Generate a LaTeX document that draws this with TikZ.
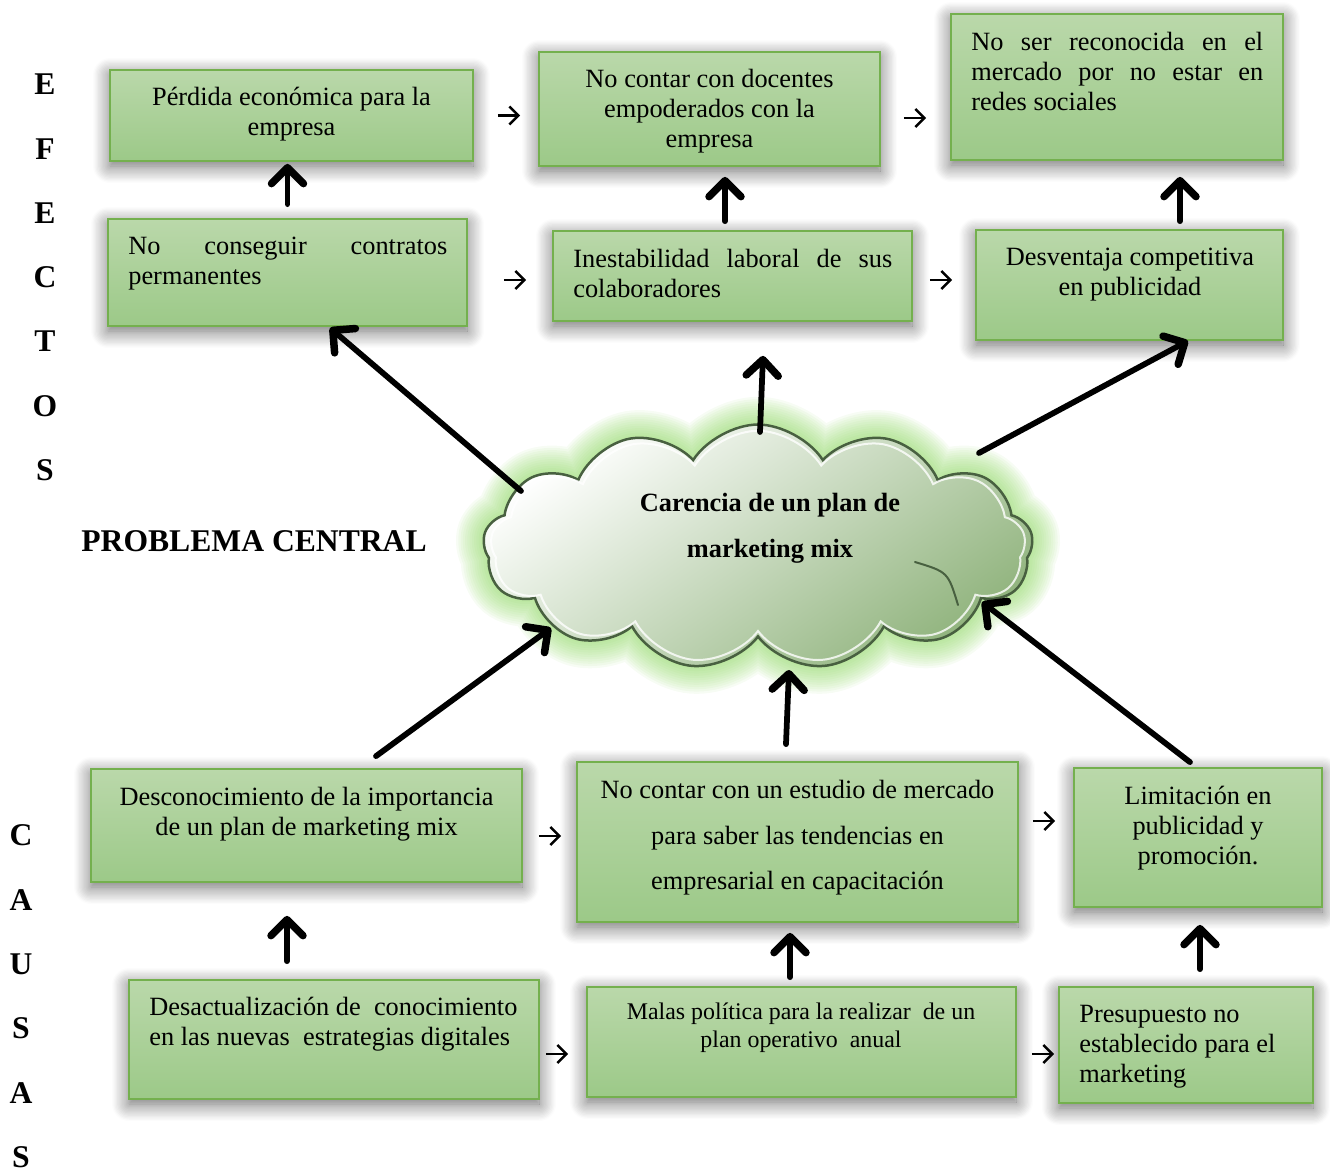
\documentclass[tikz,border=0pt]{standalone}
\usepackage{fontspec}
\setmainfont{Liberation Serif}
\usetikzlibrary{arrows.meta,shapes.symbols,shadows.blur,calc}

\definecolor{paneltop}{RGB}{186,216,170}
\definecolor{panelbot}{RGB}{156,201,136}
\definecolor{panelrim}{RGB}{116,176,78}
\definecolor{cloudrim}{RGB}{72,96,64}
\definecolor{cloudfill}{RGB}{145,180,126}
\definecolor{glowgreen}{RGB}{140,214,96}

% first-line strut so every text block hangs from the same height
\newcommand\tstrut{\rule{0pt}{12pt}}
% a justified line of fixed width
\newcommand\jline[2]{\makebox[#1][s]{#2}}
% a green panel given by its corners on the pixel grid
\newcommand\drawpanel[5]{%
  \node[panelbox, minimum width={(#4-#2)*0.02cm}, minimum height={(#5-#3)*0.02cm}]
    (#1) at ({(#2+#4)/2},{(#3+#5)/2}) {};}

\tikzset{
  panelbox/.style={draw=panelrim, line width=0.035cm, top color=paneltop,
    bottom color=panelbot, inner sep=0pt,
    blur shadow={shadow xshift=0cm, shadow yshift=-0.1cm,
      shadow blur radius=0.34cm, shadow blur steps=14, shadow opacity=60}},
  body/.style={inner sep=0pt, anchor=north,
    font=\fontsize{15pt}{17.1pt}\selectfont, execute at begin node=\tstrut},
  heavy/.style={line width=0.115cm, line cap=round,
    -{Straight Barb[length=0.32cm, width=0.64cm, line width=0.15cm,
      line join=round, line cap=round]}},
  light/.style={line width=0.05cm,
    -{Straight Barb[length=0.18cm, width=0.36cm]}},
  tag/.style={inner sep=0pt, anchor=base,
    font=\fontsize{18pt}{21pt}\selectfont\bfseries},
  cloudshape/.style={cloud, cloud puffs=13, cloud puff arc=115, aspect=2.3,
    minimum width=11.0cm, minimum height=4.9cm, inner sep=0pt},
  crease/.style={draw=cloudrim, line width=0.04cm, line cap=round},
}

\begin{document}
\begin{tikzpicture}[x=0.02cm, y=-0.02cm]
\useasboundingbox (0,0) rectangle (1330,1174);

% ---------- side labels ----------
\foreach \ch/\yy [count=\i] in {E/83,F/148,E/212,C/276,T/340,O/405,S/469}
  \node[tag] (ef\i) at (45,\yy+11) {\ch};
\foreach \ch/\yy [count=\i] in {C/834,A/899,U/963,S/1027,A/1092,S/1156}
  \node[tag] (ca\i) at (21,\yy+11) {\ch};
\node[tag] (central) at (254,551) {PROBLEMA CENTRAL};

% ---------- effects ----------
\drawpanel{E1}{110}{70}{473}{161}
\drawpanel{E2}{539}{52}{880}{166}
\drawpanel{E3}{951}{14}{1283}{160}
\drawpanel{E4}{108}{219}{467}{326}
\drawpanel{E5}{553}{231}{912}{321}
\drawpanel{E6}{976}{230}{1283}{340}

\node[body, align=center] (E1t) at (291.5,87) {Pérdida económica para la\\empresa};
\node[body, align=center] (E2t) at (709.5,69) {No contar con docentes\\empoderados con la\\empresa};
\node[body, anchor=north west, align=left] (E3t) at (971,32)
  {\jline{5.84cm}{No ser reconocida en el}\\\jline{5.84cm}{mercado por no estar en}\\redes sociales};
\node[body, anchor=north west, align=left] (E4t) at (128,237)
  {\jline{6.38cm}{No conseguir contratos}\\permanentes};
\node[body, anchor=north west, align=left] (E5t) at (573,249)
  {\jline{6.38cm}{Inestabilidad laboral de sus}\\colaboradores};
\node[body, align=center] (E6t) at (1130,248) {Desventaja competitiva\\en publicidad};

% ---------- causes ----------
\drawpanel{C1}{91}{769}{522}{882}
\drawpanel{C2}{577}{762}{1018}{922}
\drawpanel{C3}{1074}{768}{1322}{907}
\drawpanel{C4}{129}{980}{539}{1099}
\drawpanel{C5}{587}{987}{1016}{1097}
\drawpanel{C6}{1059}{987}{1313}{1103}

\node[body, align=center] (C1t) at (306.5,787) {Desconocimiento de la importancia\\de un plan de marketing mix};
\node[body, align=center, font=\fontsize{15pt}{25.9pt}\selectfont] (C2t) at (797.5,780)
  {No contar con un estudio de mercado\\para saber las tendencias en\\empresarial en capacitación};
\node[body, align=center] (C3t) at (1198,786) {Limitación en\\publicidad y\\promoción.};
\node[body, anchor=north west, align=left] (C4t) at (149,997)
  {Desactualización de\ \ conocimiento\\en las nuevas\ \ estrategias digitales};
\node[body, align=center, font=\fontsize{13.6pt}{15.9pt}\selectfont] (C5t) at (801,1003)
  {Malas política para la realizar\ \ de un\\plan operativo\ \ anual};
\node[body, anchor=north west, align=left] (C6t) at (1079,1005)
  {Presupuesto no\\establecido para el\\marketing};

% ---------- central cloud ----------
% soft green halo built from many faint strokes
\foreach \i in {1,...,12}
  \node[cloudshape, draw=glowgreen, line width={(1.2-0.09*\i)*1cm}, draw opacity=0.07] (glow\i) at (758,547) {};
\node[cloudshape, draw=cloudrim, line width=0.05cm, top color=white,
      bottom color=cloudfill, shading angle=35] (core) at (758,547) {};
\node[cloudshape, minimum width=10.7cm, minimum height=4.65cm, draw=white,
      line width=0.04cm, draw opacity=0.8] (sheen) at (758,547) {};
\draw[crease] ($(core.center)+(157,15)$) .. controls ($(core.center)+(190,25)$) .. ($(core.center)+(200,58)$);
\node[body, align=center, font=\fontsize{15pt}{26.2pt}\selectfont\bfseries] (coret) at (770,493)
  {Carencia de un plan de\\marketing mix};

% ---------- heavy connectors ----------
\draw[heavy] ($(E4.north)+(0,-14)$) -- ($(E4.north |- E1.south)+(0,2)$);
\draw[heavy] ($(E5.north)+(-7.5,-9)$) -- ($(E5.north |- E2.south)+(-7.5,10)$);
\draw[heavy] ($(E6.north)+(50.5,-8)$) -- ($(E6.north |- E3.south)+(50.5,16)$);

\draw[heavy] ($(core.center)+(-237,-56)$) -- ($(E4.south)+(42.5,1)$);
\draw[heavy] ($(core.center)+(2,-115)$) -- ($(E5.south)+(30.5,34)$);
\draw[heavy] ($(core.center)+(221,-94)$) -- ($(E6.south)+(58.5,0)$);

\draw[heavy] ($(C1.north)+(69.5,-12)$) -- ($(core.center)+(-207,81)$);
\draw[heavy] ($(C2.north)+(-11.5,-17)$) -- ($(core.center)+(31,123)$);
\draw[heavy] ($(C3.north)+(-8,-5)$) -- ($(core.center)+(224,55)$);

\draw[heavy] ($(C4.north)+(-47,-18)$) -- ($(C4.north |- C1.south)+(-47,33)$);
\draw[heavy] ($(C5.north)+(-11.5,-9)$) -- ($(C5.north |- C2.south)+(-11.5,10)$);
\draw[heavy] ($(C6.north)+(14,-17)$) -- ($(C6.north |- C3.south)+(14,17)$);

% ---------- light connectors ----------
\draw[light] ($(E1.east)+(24,0)$) -- ($(E1.east -| E2.west)+(-18,0)$);
\draw[light] ($(E2.east)+(23,9)$) -- ($(E2.east -| E3.west)+(-24,9)$);
\draw[light] ($(E4.east)+(36,7.5)$) -- ($(E4.east -| E5.west)+(-26,7.5)$);
\draw[light] ($(E5.east)+(17,4)$) -- ($(E5.east -| E6.west)+(-23,4)$);
\draw[light] ($(C1.east)+(16,10.5)$) -- ($(C1.east -| C2.west)+(-15,10.5)$);
\draw[light] ($(C2.east)+(14,-21)$) -- ($(C2.east -| C3.west)+(-18,-21)$);
\draw[light] ($(C4.east)+(6,14.5)$) -- ($(C4.east -| C5.west)+(-18,14.5)$);
\draw[light] ($(C5.east)+(15,12)$) -- ($(C5.east -| C6.west)+(-4,12)$);
\end{tikzpicture}
\end{document}
